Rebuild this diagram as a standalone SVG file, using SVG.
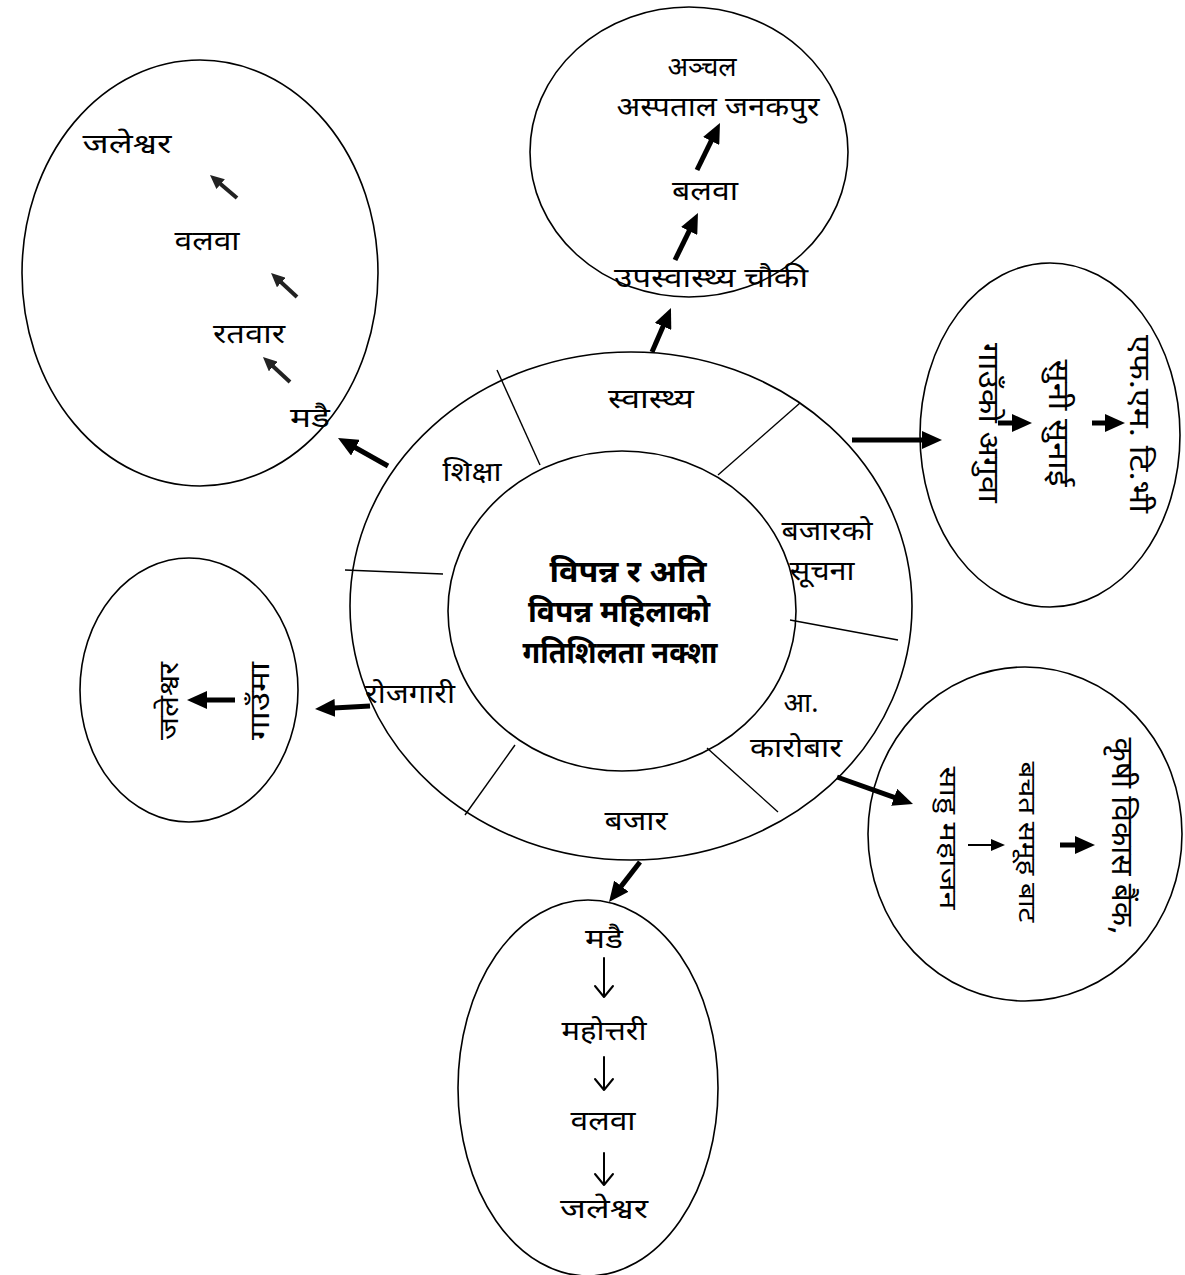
<svg xmlns="http://www.w3.org/2000/svg" width="1185" height="1275" viewBox="0 0 1185 1275">
<defs>
<style>
.sh{fill:none;stroke:#000;stroke-width:1.6}
.dv{stroke:#000;stroke-width:1.4}
.t{font-family:"Noto Sans Devanagari","Lohit Devanagari","Noto Serif Devanagari","Noto Sans","Liberation Serif",sans-serif;font-size:27px;fill:#000;text-anchor:middle}
.b{font-weight:bold;font-size:30px}
.ar{stroke:#000;stroke-width:5;fill:none;marker-end:url(#ah)}
.as{stroke:#222;stroke-width:4;fill:none;marker-end:url(#ahs)}
.at{stroke:#000;stroke-width:2;fill:none;marker-end:url(#aht)}
.dn{stroke:#000;stroke-width:2;fill:none;stroke-linecap:round;stroke-linejoin:round}
</style>
<marker id="ah" markerUnits="userSpaceOnUse" markerWidth="20" markerHeight="18" refX="6" refY="9" orient="auto"><path d="M0,0 L20,9 L0,18 z" fill="#000"/></marker>
<marker id="ahs" markerUnits="userSpaceOnUse" markerWidth="14" markerHeight="13" refX="4" refY="6.5" orient="auto"><path d="M0,0 L14,6.5 L0,13 z" fill="#222"/></marker>
<marker id="aht" markerUnits="userSpaceOnUse" markerWidth="14" markerHeight="12" refX="2" refY="6" orient="auto"><path d="M0,0 L14,6 L0,12 z" fill="#000"/></marker>
</defs>
<rect width="1185" height="1275" fill="#fff"/>

<g id="hub">
<ellipse class="sh" cx="631" cy="606" rx="281" ry="254"/>
<ellipse class="sh" cx="622" cy="611" rx="174" ry="160"/>
<line class="dv" x1="497" y1="370" x2="540" y2="465"/>
<line class="dv" x1="800" y1="403" x2="718" y2="475"/>
<line class="dv" x1="345" y1="570" x2="443" y2="574"/>
<line class="dv" x1="790" y1="620" x2="898" y2="640"/>
<line class="dv" x1="465" y1="815" x2="515" y2="745"/>
<line class="dv" x1="707" y1="748" x2="778" y2="812"/>
<text class="t b" x="628" y="582" textLength="157" lengthAdjust="spacingAndGlyphs">विपन्न र अति</text>
<text class="t b" x="619" y="622" textLength="182" lengthAdjust="spacingAndGlyphs">विपन्न महिलाको</text>
<text class="t b" x="620" y="663" textLength="195" lengthAdjust="spacingAndGlyphs">गतिशिलता नक्शा</text>
<text class="t" x="651" y="408" textLength="86" lengthAdjust="spacingAndGlyphs">स्वास्थ्य</text>
<text class="t" x="472" y="481" textLength="59" lengthAdjust="spacingAndGlyphs">शिक्षा</text>
<text class="t" x="827" y="540" textLength="91" lengthAdjust="spacingAndGlyphs">बजारको</text>
<text class="t" x="822" y="580" textLength="65" lengthAdjust="spacingAndGlyphs">सूचना</text>
<text class="t" x="410" y="703" textLength="90" lengthAdjust="spacingAndGlyphs">रोजगारी</text>
<text class="t" x="801" y="712">आ.</text>
<text class="t" x="796" y="757" textLength="92" lengthAdjust="spacingAndGlyphs">कारोबार</text>
<text class="t" x="636" y="830" textLength="63" lengthAdjust="spacingAndGlyphs">बजार</text>
</g>

<g id="node-health">
<ellipse class="sh" cx="689" cy="152" rx="159" ry="145"/>
<text class="t" x="702" y="76">अञ्चल</text>
<text class="t" x="718" y="116" textLength="203" lengthAdjust="spacingAndGlyphs">अस्पताल जनकपुर</text>
<text class="t" x="705" y="200" textLength="66" lengthAdjust="spacingAndGlyphs">बलवा</text>
<text class="t" x="711" y="287" textLength="194" lengthAdjust="spacingAndGlyphs">उपस्वास्थ्य चौकी</text>
<line class="ar" x1="697" y1="170" x2="713.8" y2="135.6"/>
<line class="ar" x1="675" y1="260" x2="691.8" y2="225.6"/>
</g>

<g id="node-education">
<ellipse class="sh" cx="200" cy="273" rx="178" ry="213"/>
<text class="t" x="127" y="153" textLength="89" lengthAdjust="spacingAndGlyphs">जलेश्वर</text>
<text class="t" x="207" y="250" textLength="65" lengthAdjust="spacingAndGlyphs">वलवा</text>
<text class="t" x="249" y="343" textLength="72" lengthAdjust="spacingAndGlyphs">रतवार</text>
<text class="t" x="310" y="427" textLength="40" lengthAdjust="spacingAndGlyphs">मडै</text>
<line class="as" x1="237" y1="198" x2="217.6" y2="181.5"/>
<line class="as" x1="297" y1="297" x2="278.4" y2="279.8"/>
<line class="as" x1="290" y1="382" x2="270.3" y2="363.8"/>
</g>

<g id="node-market-info">
<ellipse class="sh" cx="1050" cy="435" rx="130" ry="172"/>
<text class="t" style="font-size:29px" transform="translate(989,423) rotate(90)" x="0" y="10" textLength="160" lengthAdjust="spacingAndGlyphs">गाउँको अगुवा</text>
<text class="t" style="font-size:29px" transform="translate(1059,423) rotate(90)" x="0" y="10" textLength="127" lengthAdjust="spacingAndGlyphs">सुनी सुनाई</text>
<text class="t" style="font-size:29px" transform="translate(1140,424) rotate(90)" x="0" y="10" textLength="178" lengthAdjust="spacingAndGlyphs">एफ.एम. टि.भी</text>
<line class="ar" x1="998" y1="423" x2="1018" y2="423"/>
<line class="ar" x1="1092" y1="423" x2="1111" y2="423"/>
</g>

<g id="node-finance">
<ellipse class="sh" cx="1025" cy="834" rx="157" ry="167"/>
<text class="t" style="font-size:24px" transform="translate(948,838) rotate(90)" x="0" y="8" textLength="143" lengthAdjust="spacingAndGlyphs">साहु महाजन</text>
<text class="t" style="font-size:24px" transform="translate(1027,842) rotate(90)" x="0" y="8" textLength="161" lengthAdjust="spacingAndGlyphs">बचत समूह बाट</text>
<text class="t" style="font-size:30px" transform="translate(1122,836) rotate(90)" x="0" y="10" textLength="197" lengthAdjust="spacingAndGlyphs">कृषी विकास बैंक,</text>
<line class="at" x1="968" y1="845" x2="993" y2="845"/>
<line class="ar" x1="1060" y1="845" x2="1081" y2="845"/>
</g>

<g id="node-employment">
<ellipse class="sh" cx="189" cy="690" rx="109" ry="132"/>
<text class="t" transform="translate(168,701) rotate(-90)" x="0" y="10" textLength="78" lengthAdjust="spacingAndGlyphs">जलेश्वर</text>
<text class="t" transform="translate(259,701) rotate(-90)" x="0" y="10" textLength="78" lengthAdjust="spacingAndGlyphs">गाउँमा</text>
<line class="ar" x1="235" y1="700" x2="201" y2="700"/>
</g>

<g id="node-market">
<ellipse class="sh" cx="588" cy="1088" rx="130" ry="188"/>
<text class="t" x="604" y="948" textLength="38" lengthAdjust="spacingAndGlyphs">मडै</text>
<text class="t" x="604" y="1040" textLength="85" lengthAdjust="spacingAndGlyphs">महोत्तरी</text>
<text class="t" x="603" y="1130" textLength="65" lengthAdjust="spacingAndGlyphs">वलवा</text>
<text class="t" x="604" y="1218" textLength="88" lengthAdjust="spacingAndGlyphs">जलेश्वर</text>
<path class="dn" d="M604,958 V997 M595,986 L604,997 L613,986"/>
<path class="dn" d="M604,1057 V1090 M595,1079 L604,1090 L613,1079"/>
<path class="dn" d="M604,1153 V1185 M595,1174 L604,1185 L613,1174"/>
</g>

<g id="connectors">
<line class="ar" x1="652" y1="352" x2="665.4" y2="320.9"/>
<line class="ar" x1="852" y1="440" x2="928" y2="440"/>
<line class="ar" x1="837" y1="777" x2="899.8" y2="799.3"/>
<line class="ar" x1="640" y1="862" x2="617.6" y2="890.9"/>
<line class="ar" x1="370" y1="706" x2="329" y2="708.2"/>
<line class="ar" x1="388" y1="466" x2="350.2" y2="444.8"/>
</g>
</svg>
